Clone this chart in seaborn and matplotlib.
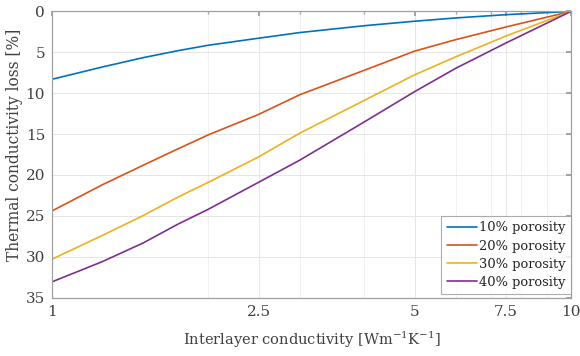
import numpy as np
import pandas as pd
import matplotlib
matplotlib.use("Agg")
import matplotlib.pyplot as plt
import seaborn as sns
from matplotlib.ticker import FixedLocator, FixedFormatter, NullFormatter, LogLocator

# Data
conductivity = [1, 1.25, 1.5, 1.75, 2, 2.5, 3, 4, 5, 6, 7.5, 10]
loss_10 = [8.3, 6.8, 5.65, 4.8, 4.14, 3.28, 2.59, 1.75, 1.2, 0.8, 0.4, 0.0]
loss_20 = [24.4, 21.2, 18.8, 16.8, 15.1, 12.6, 10.2, 7.19, 4.85, 3.45, 1.9, 0.0]
loss_30 = [30.3, 27.4, 24.95, 22.7, 20.9, 17.8, 14.9, 10.87, 7.75, 5.55, 3.0, 0.0]
loss_40 = [33.07, 30.6, 28.3, 26.0, 24.2, 20.9, 18.2, 13.5, 9.8, 6.95, 3.85, 0.0]
series_labels = ["10% porosity", "20% porosity", "30% porosity", "40% porosity"]
x_ticks = [1, 2.5, 5, 7.5, 10]
x_ticklabels = ["1", "2.5", "5", "7.5", "10"]
y_ticks = [0, 5, 10, 15, 20, 25, 30, 35]

df = pd.DataFrame({
    "x": conductivity * 4,
    "loss": loss_10 + loss_20 + loss_30 + loss_40,
    "series": sum([[s] * len(conductivity) for s in series_labels], []),
})

sns.set_theme(style="white")
plt.rcParams["font.family"] = ["DejaVu Serif"]
plt.rcParams["mathtext.fontset"] = "dejavuserif"

colors = ["#0072BD", "#D95319", "#EDB120", "#7E2F8E"]

fig = plt.figure(figsize=(5.8, 3.56), dpi=100)
ax = fig.add_axes([0.0897, 0.164, 0.8948, 0.804])

sns.lineplot(data=df, x="x", y="loss", hue="series", palette=colors,
             linewidth=1.2, ax=ax)

ax.set_xscale("log")
ax.set_xlim(1, 10)
ax.set_ylim(35, 0)

ax.xaxis.set_major_locator(FixedLocator(x_ticks))
ax.xaxis.set_major_formatter(FixedFormatter(x_ticklabels))
ax.xaxis.set_minor_locator(LogLocator(base=10, subs=np.arange(2, 10) * 1.0))
ax.xaxis.set_minor_formatter(NullFormatter())
ax.set_yticks(y_ticks)

ax.grid(True, which="major", color="#e6e6e6", linewidth=0.7)
ax.grid(True, which="minor", axis="x", color="#eeeeee", linewidth=0.6)

text_color = "#404040"
ax.tick_params(axis="both", which="major", direction="in", length=3.5,
               color="#999999", labelsize=11, labelcolor=text_color,
               top=True, right=True, pad=5)
ax.tick_params(axis="x", which="minor", direction="in", length=2,
               color="#aaaaaa", top=True)
for sp in ax.spines.values():
    sp.set_color("#a0a0a0")
    sp.set_linewidth(0.9)

ax.set_xlabel("Interlayer conductivity [Wm$^{-1}$K$^{-1}$]", fontsize=10.5,
              color=text_color, labelpad=8)
ax.set_ylabel("Thermal conductivity loss [%]", fontsize=11.2,
              color=text_color)
ax.yaxis.set_label_coords(-0.056, 0.535)

leg = ax.legend(loc="lower right", bbox_to_anchor=(1.0, 0.012),
                fontsize=9.4, frameon=True, fancybox=False,
                borderpad=0.4, labelspacing=0.4, handlelength=2.3,
                handletextpad=0.2, borderaxespad=0.0)
leg.get_frame().set_edgecolor("#999999")
leg.get_frame().set_linewidth(0.8)
for t in leg.get_texts():
    t.set_color("#222222")

fig.savefig("out.png", dpi=100)
